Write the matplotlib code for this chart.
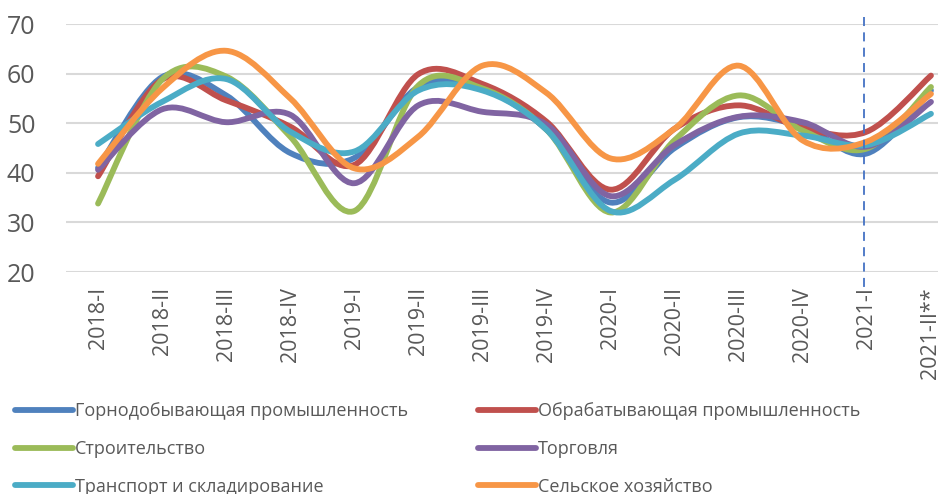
import numpy as np
import matplotlib.pyplot as plt
from matplotlib.path import Path
from matplotlib.patches import PathPatch
from matplotlib.lines import Line2D

plt.rcParams['font.family'] = ['Open Sans', 'DejaVu Sans']

# Кварталы
kvartaly = ['2018-I', '2018-II', '2018-III', '2018-IV',
            '2019-I', '2019-II', '2019-III', '2019-IV',
            '2020-I', '2020-II', '2020-III', '2020-IV',
            '2021-I', '2021-II**']

gornodob = [41.0, 59.3, 55.6, 44.0, 43.0, 57.3, 57.0, 48.7, 34.0, 45.0, 51.2, 49.3, 43.9, 56.6]
obrabat = [39.3, 58.8, 54.6, 49.3, 41.6, 59.9, 57.9, 50.3, 36.6, 48.9, 53.6, 49.0, 48.3, 59.6]
stroit = [33.8, 58.8, 59.4, 47.3, 32.3, 57.6, 57.0, 48.7, 32.0, 46.6, 55.6, 48.5, 44.9, 57.3]
torgovlya = [40.6, 52.8, 50.2, 51.7, 37.9, 53.6, 52.3, 49.7, 35.3, 45.6, 51.3, 50.2, 45.3, 54.3]
transport = [45.8, 54.3, 58.9, 48.3, 44.3, 56.6, 56.6, 48.7, 32.3, 38.6, 47.9, 47.5, 45.6, 51.9]
selhoz = [41.8, 57.0, 64.6, 55.0, 40.9, 47.3, 61.6, 56.1, 42.9, 48.9, 61.6, 46.5, 46.3, 55.9]

serii = [
    ('Горнодобывающая промышленность', gornodob, '#4F81BD'),
    ('Обрабатывающая промышленность', obrabat, '#C0504D'),
    ('Строительство', stroit, '#9BBB59'),
    ('Торговля', torgovlya, '#8064A2'),
    ('Транспорт и складирование', transport, '#4BACC6'),
    ('Сельское хозяйство', selhoz, '#F79646'),
]


def gladkaya_liniya(x, y):
    # сглаженная линия как в Excel (кривые Безье)
    pts = np.column_stack([x, y]).astype(float)
    n = len(pts)
    verts = [pts[0]]
    codes = [Path.MOVETO]
    for i in range(n - 1):
        p0 = pts[max(i - 1, 0)]
        p1 = pts[i]
        p2 = pts[i + 1]
        p3 = pts[min(i + 2, n - 1)]
        c1 = p1 + (p2 - p0) / 6.0
        c2 = p2 - (p3 - p1) / 6.0
        verts += [c1, c2, p2]
        codes += [Path.CURVE4] * 3
    return Path(verts, codes)


fig = plt.figure(figsize=(9.38, 4.94), dpi=100)
ax = fig.add_axes([66 / 938, 222 / 494, 897 / 938, 248 / 494])

x = np.arange(len(kvartaly))
handles = []
for nazv, vals, cvet in serii:
    patch = PathPatch(gladkaya_liniya(x, vals), fill=False, edgecolor=cvet,
                      lw=4.2, capstyle='round', joinstyle='round', zorder=3)
    ax.add_patch(patch)
    handles.append(Line2D([], [], color=cvet, lw=4.2, solid_capstyle='round', label=nazv))

# пунктирная линия на 2021-I
ax.plot([11.95, 11.95], [1.028, -0.073], transform=ax.get_xaxis_transform(),
        color='#4472C4', lw=1.3, ls=(0, (5, 3.5)), clip_on=False, zorder=4)

ax.set_xlim(-0.5, len(kvartaly) - 0.5)
ax.set_ylim(20, 70)
ax.set_yticks([20, 30, 40, 50, 60, 70])
ax.set_xticks(x)
ax.set_xticklabels(kvartaly, rotation=90, va='top', ha='center')
ax.tick_params(axis='x', length=0, pad=11, labelsize=15.5, labelcolor='#595959')
ax.tick_params(axis='y', length=0, pad=22, labelsize=18, labelcolor='#595959')
ax.grid(axis='y', color='#D9D9D9', lw=1.5)
ax.set_axisbelow(True)
for s in ax.spines.values():
    s.set_visible(False)

# легенда построчно (по два элемента в строке)
poryadok = [0, 2, 4, 1, 3, 5]
fig.legend(handles=[handles[i] for i in poryadok], loc='upper left',
           bbox_to_anchor=(15 / 938, 1 - 402 / 494),
           ncol=2, frameon=False, fontsize=13, handlelength=3.2, handletextpad=0.1,
           columnspacing=3.9, labelspacing=1.1, labelcolor='#595959',
           borderaxespad=0, borderpad=0)

fig.savefig('out.png', dpi=100)
